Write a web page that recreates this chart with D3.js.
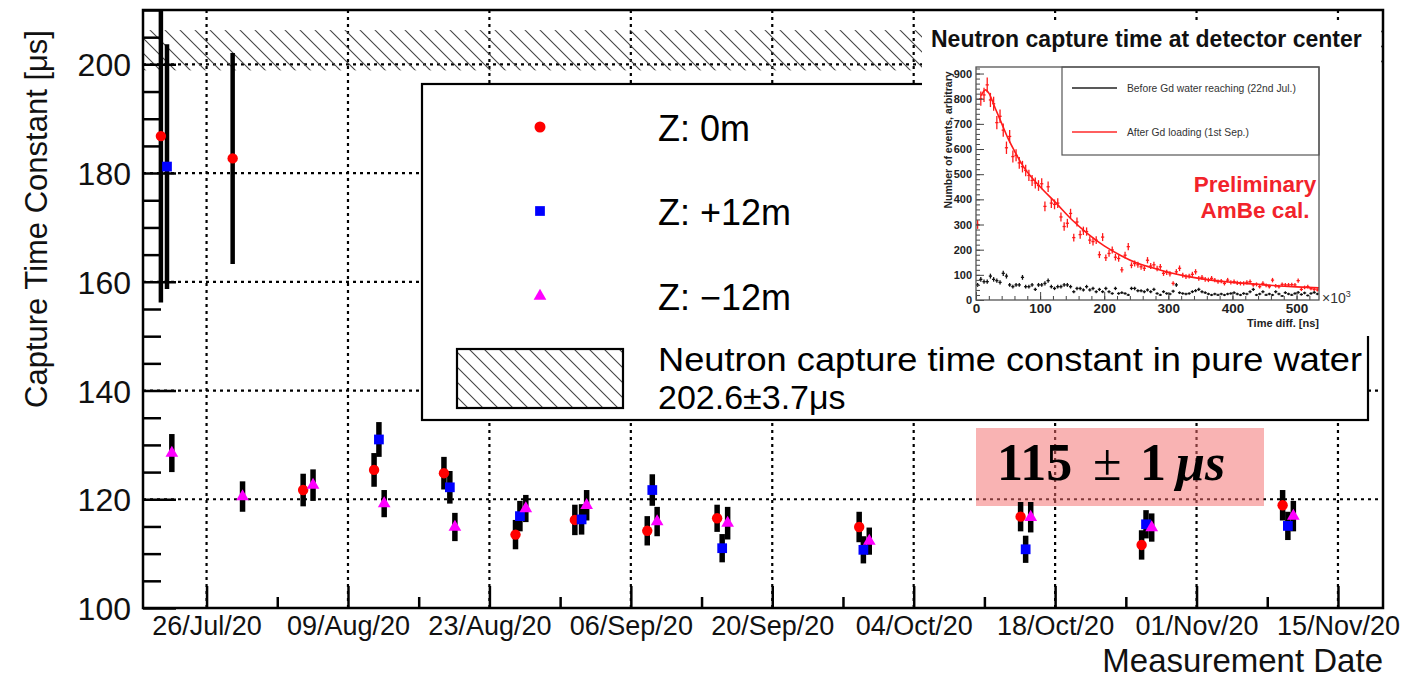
<!DOCTYPE html>
<html lang="en">
<head>
<meta charset="utf-8">
<script src="https://d3js.org/d3.v7.min.js"></script>
<title>Capture time constant vs measurement date</title>
<style>
body { margin: 0; background: #fff; }
text { font-family: "Liberation Sans", Arial, Helvetica, sans-serif; }
.grid line { stroke: #000; stroke-width: 2.2; stroke-dasharray: 3,4; }
</style>
</head>
<body>
<div id="chart"></div>
<script>
// ---------------- data ----------------
var majorTicks = ["2020-07-26", "2020-08-09", "2020-08-23", "2020-09-06", "2020-09-20",
                  "2020-10-04", "2020-10-18", "2020-11-01", "2020-11-15"];
var tickLabels = ["26/Jul/20", "09/Aug/20", "23/Aug/20", "06/Sep/20", "20/Sep/20",
                  "04/Oct/20", "18/Oct/20", "01/Nov/20", "15/Nov/20"];
var yTicks = [100, 120, 140, 160, 180, 200];

// Z: 0m (red circles)
var zeroDates = ["2020-07-21 11:30", "2020-07-28 14:00", "2020-08-04 13:30", "2020-08-11 14:00",
                 "2020-08-18 12:00", "2020-08-25 14:00", "2020-08-31 11:00", "2020-09-07 15:00",
                 "2020-09-14 13:00", "2020-09-28 14:30", "2020-10-14 14:00", "2020-10-26 13:30",
                 "2020-11-09 12:30"];
var zeroVals = [186.8, 182.7, 121.7, 125.4, 124.8, 113.5, 116.2, 114.2, 116.5, 114.9, 116.8, 111.6, 118.9];
var zeroErrs = [30.6, 19.4, 3.0, 3.1, 3.0, 2.7, 2.8, 2.7, 2.5, 2.8, 2.7, 2.7, 2.8];

// Z: +12m (blue squares)
var plusDates = ["2020-07-22 02:00", "2020-08-12 01:30", "2020-08-19 02:00", "2020-08-26 00:30",
                 "2020-09-01 03:00", "2020-09-08 03:00", "2020-09-15 01:00", "2020-09-29 00:30",
                 "2020-10-15 02:00", "2020-10-27 00:00", "2020-11-10 01:00"];
var plusVals = [181.2, 131.0, 122.2, 116.9, 116.3, 121.7, 111.0, 110.7, 110.8, 115.4, 115.1];
var plusErrs = [22.5, 3.2, 3.0, 2.8, 2.8, 2.9, 2.6, 2.5, 2.5, 2.6, 2.6];

// Z: -12m (magenta triangles)
var minusDates = ["2020-07-22 13:30", "2020-07-29 13:30", "2020-08-05 13:00", "2020-08-12 14:00",
                  "2020-08-19 14:00", "2020-08-26 14:30", "2020-09-01 15:00", "2020-09-08 14:30",
                  "2020-09-15 14:00", "2020-09-29 14:30", "2020-10-15 14:00", "2020-10-27 13:30",
                  "2020-11-10 14:00"];
var minusVals = [128.5, 120.5, 122.6, 119.2, 114.9, 118.3, 118.9, 115.9, 115.6, 112.3, 116.7, 114.8, 116.9];
var minusErrs = [3.5, 2.8, 2.9, 2.5, 2.6, 2.5, 2.8, 2.7, 3.0, 2.5, 2.8, 2.6, 2.8];

// pure water reference band
var pureWaterMean = 202.6, pureWaterErr = 3.7;

// inset: AmBe capture time histograms, 5 (x10^3 ns) bins from 0
var insetBinWidth = 5;
var afterGd = [300, 800, 815, 855, 795, 780, 705, 730, 675, 605,
               650, 570, 575, 545, 530, 515, 495, 475, 465, 455,
               462, 372, 450, 385, 380, 385, 330, 292, 305, 344,
               248, 310, 260, 275, 272, 238, 232, 238, 180, 250,
               168, 185, 199, 170, 165, 120, 178, 212, 138, 145,
               140, 132, 126, 158, 135, 140, 125, 132, 106, 110,
               104, 66, 112, 126, 98, 93, 95, 102, 112, 86,
               90, 82, 80, 86, 79, 73, 75, 66, 79, 70,
               73, 68, 66, 66, 70, 73, 60, 62, 53, 66,
               58, 53, 79, 56, 53, 62, 60, 60, 61, 60,
               77, 42, 50, 53, 45, 42, 40];
var beforeGd = [60, 82, 73, 73, 95, 82, 77, 70, 106, 95,
                60, 53, 60, 60, 90, 53, 53, 60, 42, 60,
                60, 66, 77, 53, 46, 53, 53, 60, 60, 53,
                33, 46, 46, 40, 53, 40, 46, 33, 42, 33,
                46, 33, 26, 46, 26, 29, 26, 20, 46, 46,
                37, 37, 33, 40, 33, 42, 26, 20, 33, 26,
                24, 35, 60, 29, 26, 24, 26, 33, 37, 42,
                33, 29, 24, 20, 24, 20, 24, 20, 24, 26,
                29, 24, 20, 26, 24, 33, 42, 20, 24, 33,
                20, 24, 20, 33, 24, 16, 29, 24, 20, 26,
                30, 22, 28, 18, 26, 30, 24];
// fitted exponential
var fitX = [8, 12, 15, 20, 30, 40, 50, 60, 75, 100, 125, 150, 175, 200, 225, 250,
            275, 300, 325, 350, 375, 400, 450, 500, 535];
var fitY = [812, 830, 835, 822, 762, 702, 642, 592, 526, 450, 385, 318, 262, 215, 178, 148,
            128, 110, 96, 85, 76, 70, 60, 52, 48];

// ---------------- layout ----------------
var W = 1422, H = 680;
var fr = {x0: 143, x1: 1383, y0: 10, y1: 608};
var font = "'Liberation Sans', Arial, Helvetica, sans-serif";

var svg = d3.select("#chart").append("svg")
    .attr("width", W).attr("height", H);

var parseT = d3.utcParse("%Y-%m-%d %H:%M");
var parseD = d3.utcParse("%Y-%m-%d");

var x = d3.scaleUtc()
    .domain([parseT("2020-07-19 17:00"), parseT("2020-11-19 11:00")])
    .range([fr.x0, fr.x1]);
var y = d3.scaleLinear().domain([100, 210]).range([fr.y1, fr.y0]);

var majorDates = majorTicks.map(parseD);
var minorDates = majorDates.map(function(d) { return d3.utcDay.offset(d, 7); })
    .filter(function(d) { return x(d) < fr.x1; });
var yMinor = d3.range(100, 211, 5).filter(function(v) { return v % 20 !== 0; });

var defs = svg.append("defs");
defs.append("clipPath").attr("id", "frameClip").append("rect")
    .attr("x", fr.x0).attr("y", fr.y0).attr("width", fr.x1 - fr.x0).attr("height", fr.y1 - fr.y0);
var hatch = defs.append("pattern").attr("id", "hatch")
    .attr("patternUnits", "userSpaceOnUse").attr("width", 15).attr("height", 15);
hatch.append("path")
    .attr("d", "M0,0 L15,15 M-4,11 L4,19 M11,-4 L19,4")
    .attr("stroke", "#444").attr("stroke-width", 1.1).attr("fill", "none");

// ---------------- grid ----------------
var grid = svg.append("g").attr("class", "grid");
grid.selectAll(".gx").data(majorDates).enter().append("line")
    .attr("x1", function(d) { return x(d); }).attr("x2", function(d) { return x(d); })
    .attr("y1", fr.y0).attr("y2", fr.y1);
grid.selectAll(".gy").data(yTicks.slice(1)).enter().append("line")
    .attr("x1", fr.x0).attr("x2", fr.x1)
    .attr("y1", function(d) { return y(d); }).attr("y2", function(d) { return y(d); });

// pure water band
svg.append("rect")
    .attr("clip-path", "url(#frameClip)")
    .attr("x", fr.x0).attr("width", fr.x1 - fr.x0)
    .attr("y", y(pureWaterMean + pureWaterErr))
    .attr("height", y(pureWaterMean - pureWaterErr) - y(pureWaterMean + pureWaterErr))
    .attr("fill", "url(#hatch)");

// ---------------- legend ----------------
var leg = svg.append("g");
leg.append("rect").attr("x", 422).attr("y", 84).attr("width", 946).attr("height", 336)
    .attr("fill", "#fff").attr("stroke", "#000").attr("stroke-width", 2.2);

var legItems = [
    {label: "Z: 0m", y: 127, shape: "circle", color: "#ff0000"},
    {label: "Z: +12m", y: 211, shape: "square", color: "#0000ff"},
    {label: "Z: \u221212m", y: 296, shape: "triangle", color: "#ff00ff"}
];
function marker(sel, shape, size) {
    var sym = shape === "circle" ? d3.symbolCircle : shape === "square" ? d3.symbolSquare : d3.symbolTriangle;
    return sel.append("path").attr("d", d3.symbol().type(sym).size(size));
}
legItems.forEach(function(it) {
    marker(leg, it.shape, it.shape === "triangle" ? 70 : 95)
        .attr("transform", "translate(540," + it.y + ")").attr("fill", it.color);
    leg.append("text").attr("x", 658).attr("y", it.y + 14)
        .attr("font-size", 36).text(it.label);
});
leg.append("rect").attr("x", 457).attr("y", 349).attr("width", 166).attr("height", 59)
    .attr("fill", "url(#hatch)").attr("stroke", "#000").attr("stroke-width", 2.2);
leg.append("text").attr("x", 658).attr("y", 371).attr("font-size", 34)
    .attr("textLength", 704).attr("lengthAdjust", "spacingAndGlyphs")
    .text("Neutron capture time constant in pure water");
leg.append("text").attr("x", 658).attr("y", 409).attr("font-size", 34)
    .text(pureWaterMean + "\u00b1" + pureWaterErr + "\u03bcs");

// ---------------- 115 ± 1 μs box ----------------
svg.append("rect").attr("x", 976).attr("y", 428).attr("width", 288).attr("height", 78)
    .attr("fill", "#f46e6e").attr("fill-opacity", 0.52);
var res = svg.append("text").attr("y", 480).attr("font-size", 52)
    .style("font-family", "'Liberation Serif', 'DejaVu Serif', serif");
res.append("tspan").attr("x", 997).attr("font-weight", "bold").text("115");
res.append("tspan").attr("x", 1093).text("\u00b1");
res.append("tspan").attr("x", 1140).attr("font-weight", "bold").text("1");
res.append("tspan").attr("x", 1176).attr("font-weight", "bold").attr("font-style", "italic").text("\u03bcs");

// ---------------- data points ----------------
function series(dates, vals, errs) {
    return dates.map(function(d, i) { return {t: parseT(d), v: vals[i], e: errs[i]}; });
}
var allSeries = [
    {data: series(zeroDates, zeroVals, zeroErrs), shape: "circle", color: "#ff0000", size: 85},
    {data: series(plusDates, plusVals, plusErrs), shape: "square", color: "#0000ff", size: 95},
    {data: series(minusDates, minusVals, minusErrs), shape: "triangle", color: "#ff00ff", size: 70}
];
var pts = svg.append("g").attr("clip-path", "url(#frameClip)");
allSeries.forEach(function(s) {
    pts.selectAll(null).data(s.data).enter().append("line")
        .attr("x1", function(d) { return x(d.t); }).attr("x2", function(d) { return x(d.t); })
        .attr("y1", function(d) { return y(d.v + d.e); }).attr("y2", function(d) { return y(d.v - d.e); })
        .attr("stroke", "#000").attr("stroke-width", function(d) { return d.e > 10 ? 4.5 : 5.5; });
});
allSeries.forEach(function(s) {
    s.data.forEach(function(d) {
        marker(pts, s.shape, s.size)
            .attr("transform", "translate(" + x(d.t) + "," + y(d.v) + ")")
            .attr("fill", s.color);
    });
});

// ---------------- inset ----------------
var ins = svg.append("g");
ins.append("rect").attr("x", 922).attr("y", 20).attr("width", 459).attr("height", 316).attr("fill", "#fff");
ins.append("text").attr("x", 931).attr("y", 47).attr("font-size", 23).attr("font-weight", "bold")
    .attr("fill", "#111").text("Neutron capture time at detector center");

var fi = {x0: 976, x1: 1319, y0: 67, y1: 300};
var xi = d3.scaleLinear().domain([0, 535]).range([fi.x0, fi.x1]);
var yi = d3.scaleLinear().domain([0, 926]).range([fi.y1, fi.y0]);
defs.append("clipPath").attr("id", "insetClip").append("rect")
    .attr("x", fi.x0).attr("y", fi.y0).attr("width", fi.x1 - fi.x0).attr("height", fi.y1 - fi.y0);

// inset legend box
ins.append("rect").attr("x", 1062).attr("y", fi.y0).attr("width", fi.x1 - 1062).attr("height", 88)
    .attr("fill", "none").attr("stroke", "#555").attr("stroke-width", 1.2);
[{label: "Before Gd water reaching (22nd Jul.)", c: "#222", y: 88},
 {label: "After Gd loading (1st Sep.)", c: "#ff2a2a", y: 132}].forEach(function(it) {
    ins.append("line").attr("x1", 1072).attr("x2", 1117).attr("y1", it.y).attr("y2", it.y)
        .attr("stroke", it.c).attr("stroke-width", 1.6);
    ins.append("text").attr("x", 1127).attr("y", it.y + 3.5).attr("font-size", 10.3)
        .attr("fill", "#333").text(it.label);
});

var binX = d3.range(afterGd.length).map(function(i) { return (i + 0.5) * insetBinWidth; });
var hp = ins.append("g").attr("clip-path", "url(#insetClip)");
function histPoints(vals, color) {
    var g = hp.append("g").attr("stroke", color).attr("stroke-width", 1.3);
    vals.forEach(function(v, i) {
        var e = Math.sqrt(v);
        g.append("line").attr("x1", xi(binX[i] - insetBinWidth / 2)).attr("x2", xi(binX[i] + insetBinWidth / 2))
            .attr("y1", yi(v)).attr("y2", yi(v));
        g.append("line").attr("x1", xi(binX[i])).attr("x2", xi(binX[i]))
            .attr("y1", yi(v + e)).attr("y2", yi(v - e));
    });
}
histPoints(beforeGd, "#111");
histPoints(afterGd, "#ff1a1a");
hp.append("path")
    .datum(fitX.map(function(d, i) { return [d, fitY[i]]; }))
    .attr("d", d3.line().x(function(d) { return xi(d[0]); }).y(function(d) { return yi(d[1]); })
        .curve(d3.curveMonotoneX))
    .attr("fill", "none").attr("stroke", "#ff1a1a").attr("stroke-width", 1.6);

// inset axes
var iy = ins.append("g").attr("transform", "translate(" + fi.x0 + ",0)");
iy.call(d3.axisLeft(yi).tickValues(d3.range(0, 901, 100)).tickSize(-8).tickPadding(4));
iy.append("g").call(d3.axisLeft(yi).tickValues(d3.range(20, 926, 20)).tickSize(-4).tickFormat(""));
var ix = ins.append("g").attr("transform", "translate(0," + fi.y1 + ")");
ix.call(d3.axisBottom(xi).tickValues(d3.range(0, 501, 100)).tickSize(-8).tickPadding(3));
ix.append("g").call(d3.axisBottom(xi).tickValues(d3.range(20, 535, 20)).tickSize(-4).tickFormat(""));
[iy, ix].forEach(function(g) {
    g.selectAll(".domain").remove();
    g.selectAll("line").attr("stroke", "#444").attr("stroke-width", 1);
    g.selectAll("text").attr("font-family", font).attr("font-weight", "bold").attr("fill", "#222");
});
iy.selectAll("text").attr("font-size", 11);
ix.selectAll("text").attr("font-size", 13.5);
ins.append("rect").attr("x", fi.x0).attr("y", fi.y0).attr("width", fi.x1 - fi.x0).attr("height", fi.y1 - fi.y0)
    .attr("fill", "none").attr("stroke", "#555").attr("stroke-width", 1.3);
var exp = ins.append("text").attr("x", 1322).attr("y", 303).attr("font-size", 14).attr("fill", "#333");
exp.append("tspan").text("\u00d710");
exp.append("tspan").attr("dy", -6).attr("font-size", 9).text("3");
ins.append("text").attr("x", fi.x1).attr("y", 327).attr("text-anchor", "end")
    .attr("font-size", 11).attr("font-weight", "bold").attr("fill", "#222").text("Time diff. [ns]");
ins.append("text").attr("transform", "translate(952,140) rotate(-90)").attr("text-anchor", "middle")
    .attr("font-size", 10.5).attr("font-weight", "bold").attr("fill", "#222").text("Number of events, arbitrary");
ins.append("text").attr("x", 1255).attr("y", 192).attr("text-anchor", "middle")
    .attr("font-size", 22.5).attr("font-weight", "bold").attr("fill", "#f2232b").text("Preliminary");
ins.append("text").attr("x", 1255).attr("y", 218).attr("text-anchor", "middle")
    .attr("font-size", 22.5).attr("font-weight", "bold").attr("fill", "#f2232b").text("AmBe cal.");

// ---------------- main axes & frame ----------------
var ax = svg.append("g").attr("transform", "translate(0," + fr.y1 + ")");
ax.call(d3.axisBottom(x).tickValues(majorDates).tickSize(-22).tickPadding(8)
    .tickFormat(function(d, i) { return tickLabels[i]; }));
ax.append("g").call(d3.axisBottom(x).tickValues(minorDates).tickSize(-11).tickFormat(""));
var ay = svg.append("g").attr("transform", "translate(" + fr.x0 + ",0)");
ay.call(d3.axisLeft(y).tickValues(yTicks).tickSize(-33).tickPadding(12));
ay.append("g").call(d3.axisLeft(y).tickValues(yMinor).tickSize(-18).tickFormat(""));
[ax, ay].forEach(function(g) {
    g.selectAll(".domain").remove();
    g.selectAll("line").attr("stroke", "#000").attr("stroke-width", 2.5);
    g.selectAll("text").attr("font-family", font).attr("fill", "#111");
});
ax.selectAll("text").attr("font-size", 27);
ay.selectAll("text").attr("font-size", 32).attr("dy", "0.36em");

svg.append("rect").attr("x", fr.x0).attr("y", fr.y0)
    .attr("width", fr.x1 - fr.x0).attr("height", fr.y1 - fr.y0)
    .attr("fill", "none").attr("stroke", "#000").attr("stroke-width", 2.5);

svg.append("text").attr("x", fr.x1).attr("y", 672).attr("text-anchor", "end")
    .attr("font-size", 33).attr("fill", "#111").text("Measurement Date");
svg.append("text").attr("transform", "translate(47,219) rotate(-90)").attr("text-anchor", "middle")
    .attr("font-size", 31).attr("fill", "#111").text("Capture Time Constant [\u03bcs]");
</script>
</body>
</html>
